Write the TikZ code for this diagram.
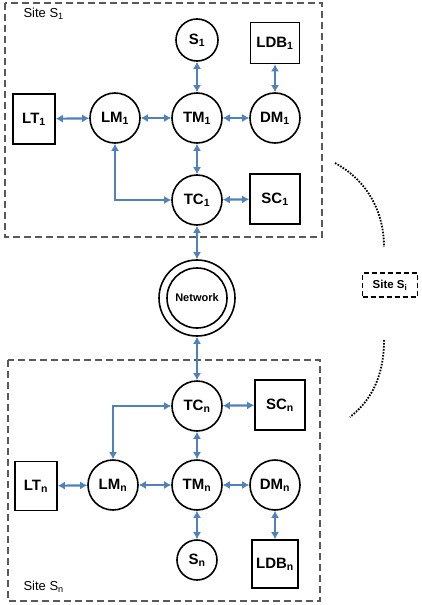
\documentclass[tikz,border=0pt]{standalone}
\usepackage{fontspec}
\setmainfont{Liberation Sans}
\usetikzlibrary{arrows.meta,positioning}
\definecolor{linkblue}{RGB}{79,129,189}

\tikzset{
  proc/.style = {draw, circle, line width=1.6pt, minimum size=50pt, inner sep=0pt, font=\fontsize{15}{17}\selectfont\bfseries},
  store/.style = {draw, rectangle, line width=1.6pt, minimum width=48pt, minimum height=48pt, inner sep=0pt, font=\fontsize{15}{17}\selectfont\bfseries},
  link/.style = {linkblue, line width=2.2pt, {Latex[length=7pt,width=8pt]}-{Latex[length=7pt,width=8pt]}},
  sitebox/.style = {draw=black!65, dash pattern=on 7pt off 4pt, line width=1.4pt},
  sitelabel/.style = {anchor=west, font=\fontsize{13}{15}\selectfont},
}

\begin{document}
\begin{tikzpicture}[x=1pt, y=-1pt]
\useasboundingbox (0,0) rectangle (422,605);

% site 1
\draw[sitebox] (5,3) rectangle (322,237);
\node[sitelabel] (lab1) at (20,14) {Site S\textsubscript{1}};
\node[proc] (tm1) at (197,118) {TM\textsubscript{1}};
\node[proc] (lm1) at (115,118) {LM\textsubscript{1}};
\node[proc] (dm1) at (275,118) {DM\textsubscript{1}};
\node[proc] (tc1) at (197,200) {TC\textsubscript{1}};
\node[proc, minimum size=42pt] (s1) at (197,40) {S\textsubscript{1}};
\node[store, minimum width=49pt, minimum height=41pt] (ldb1) at (275,43) {LDB\textsubscript{1}};
\node[store, minimum width=42pt, minimum height=50pt] (lt1) at (34,119) {LT\textsubscript{1}};
\node[store, minimum size=50pt] (sc1) at (275,199) {SC\textsubscript{1}};

\draw[link] (lt1) -- (lm1);
\draw[link] (lm1) -- (tm1);
\draw[link] (tm1) -- (dm1);
\draw[link] (s1) -- (tm1);
\draw[link] (ldb1) -- (dm1);
\draw[link] (tm1) -- (tc1);
\draw[link] (tc1) -- (sc1);
\draw[link] (lm1) |- (tc1);

% network
\node[draw, circle, line width=1.6pt, minimum size=76pt] (net) at (197,298) {};
\node[draw, circle, line width=1.6pt, minimum size=60pt, font=\fontsize{11}{13}\selectfont\bfseries] (netin) at (net) {Network};
\draw[link] (tc1) -- (net);

% site i
\node[draw, dash pattern=on 5pt off 3pt, line width=1.3pt, minimum width=55pt, minimum height=24pt, inner sep=2pt, font=\fontsize{11.5}{13}\selectfont\bfseries] (sitei) at (390,285) {Site S\textsubscript{i}};
\coordinate (up1) at (335,163);
\coordinate (up2) at (384,247);
\coordinate (lo1) at (384,340);
\coordinate (lo2) at (350,417);
\draw[line width=1.8pt, dash pattern=on 1.6pt off 1.4pt] (up1) .. controls (370,182) and (384,215) .. (up2);
\draw[line width=1.8pt, dash pattern=on 1.6pt off 1.4pt] (lo1) .. controls (384,375) and (372,400) .. (lo2);

% site n
\draw[sitebox] (8,360) rectangle (320,601);
\node[sitelabel] (labn) at (20,587) {Site S\textsubscript{n}};
\node[proc] (tcn) at (197,406) {TC\textsubscript{n}};
\node[store, minimum size=50pt] (scn) at (280,405) {SC\textsubscript{n}};
\node[proc] (lmn) at (113,485) {LM\textsubscript{n}};
\node[proc] (tmn) at (197,485) {TM\textsubscript{n}};
\node[proc] (dmn) at (275,485) {DM\textsubscript{n}};
\node[store, minimum width=42pt, minimum height=49pt] (ltn) at (36,486) {LT\textsubscript{n}};
\node[proc, minimum size=40pt] (sn) at (197,560) {S\textsubscript{n}};
\node[store, minimum width=46pt, minimum height=48pt] (ldbn) at (275,564) {LDB\textsubscript{n}};

\draw[link] (net) -- (tcn);
\draw[link] (tcn) -- (scn);
\draw[link] (lmn) |- (tcn);
\draw[link] (tcn) -- (tmn);
\draw[link] (ltn) -- (lmn);
\draw[link] (lmn) -- (tmn);
\draw[link] (tmn) -- (dmn);
\draw[link] (tmn) -- (sn);
\draw[link] (dmn) -- (ldbn);
\end{tikzpicture}
\end{document}
